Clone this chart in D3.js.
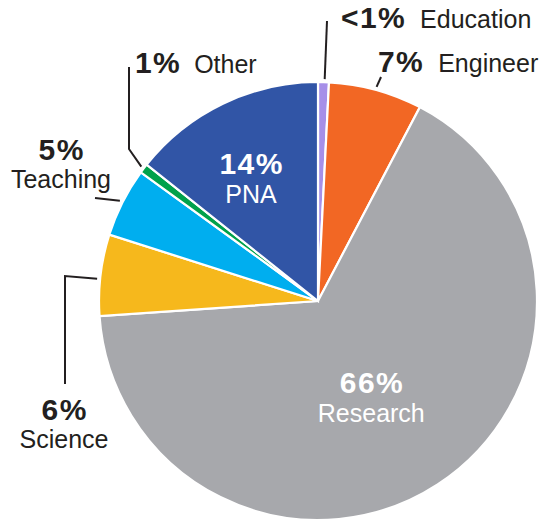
<!DOCTYPE html>
<html>
<head>
<meta charset="utf-8">
<script src="https://cdn.jsdelivr.net/npm/d3@7"></script>
<style>
  html, body { margin: 0; padding: 0; background: #ffffff; }
  svg { display: block; }
  text { font-family: "Liberation Sans", Arial, Helvetica, sans-serif; }
</style>
</head>
<body>
<svg id="chart" width="545" height="520"></svg>
<script>
// ---- data (clockwise from 12 o'clock) ----
const categories = ["Education", "Engineer", "Research", "Science", "Teaching", "Other", "PNA"];
const shares     = [0.8, 6.9, 66.2, 6.0, 5.1, 0.7, 14.3];
const pctLabels  = ["<1%", "7%", "66%", "6%", "5%", "1%", "14%"];
const colors     = ["#a68fe8", "#f26724", "#a7a8ac", "#f6b81c", "#00aeef", "#00a14b", "#3155a6"];

// ---- layout ----
const W = 545, H = 520;
const cx = 318, cy = 301, R = 219;
const ink = "#231f20";
const boldSize = 30, boldSpacing = 1.4, regSize = 25;

const svg = d3.select("#chart");
const g = svg.append("g").attr("transform", `translate(${cx},${cy})`);

const pie = d3.pie().sort(null).value(d => d.v).startAngle(0).endAngle(2 * Math.PI);
const arcs = pie(categories.map((c, i) => ({ name: c, v: shares[i], pct: pctLabels[i], color: colors[i] })));
const arc = d3.arc().innerRadius(0).outerRadius(R);

g.selectAll("path.slice")
  .data(arcs)
  .join("path")
  .attr("class", "slice")
  .attr("d", arc)
  .attr("fill", d => d.data.color)
  .attr("stroke", "#ffffff")
  .attr("stroke-width", 2.2)
  .attr("stroke-linejoin", "miter");

function polar(angle, r) { return [Math.sin(angle) * r, -Math.cos(angle) * r]; }
const byName = Object.fromEntries(arcs.map(a => [a.data.name, a]));

// ---- inside labels ----
const inside = [
  { name: "PNA", rf: 0.64, shift: -0.05 },
  { name: "Research", rf: 0.50, shift: 0.07 }
];
inside.forEach(o => {
  const a = byName[o.name];
  const mid = (a.startAngle + a.endAngle) / 2 + o.shift;
  const [x, y] = polar(mid, R * o.rf);
  const t = g.append("text").attr("text-anchor", "middle").attr("fill", "#ffffff");
  t.append("tspan").attr("x", x + boldSpacing / 2).attr("y", y - 4)
    .attr("font-weight", "bold").attr("font-size", boldSize)
    .attr("letter-spacing", boldSpacing).text(a.data.pct);
  t.append("tspan").attr("x", x).attr("y", y + 25)
    .attr("font-size", regSize).text(a.data.name);
});

// ---- leader lines ----
const line = d3.line();
function leader(name, fracAlong, rOff, pts) {
  const a = byName[name];
  const ang = a.startAngle + (a.endAngle - a.startAngle) * fracAlong;
  const start = polar(ang, R + rOff);
  g.append("path")
    .attr("d", line([start, ...pts.map(p => [p[0] - cx, p[1] - cy])]))
    .attr("fill", "none").attr("stroke", ink).attr("stroke-width", 2);
}
leader("Education", 0.6, 3, [[327, 21]]);
leader("Engineer", 0.5, 3, [[381, 77]]);
leader("Other", 0.5, 3, [[129, 149], [129, 67]]);
leader("Teaching", 0.5, 3, [[95, 198]]);
leader("Science", 0.45, 3, [[65, 276], [65, 384]]);

// ---- outside labels ----
function inlineLabel(pct, name, x, y, gap) {
  const t = svg.append("text").attr("x", x).attr("y", y).attr("fill", ink);
  t.append("tspan").attr("font-weight", "bold").attr("font-size", boldSize)
    .attr("letter-spacing", boldSpacing).text(pct);
  t.append("tspan").attr("dx", gap).attr("font-size", regSize).text(name);
}
function stackedLabel(pct, name, x, y) {
  const t = svg.append("text").attr("text-anchor", "middle").attr("fill", ink);
  t.append("tspan").attr("x", x + boldSpacing / 2).attr("y", y).attr("font-weight", "bold")
    .attr("font-size", boldSize).attr("letter-spacing", boldSpacing).text(pct);
  t.append("tspan").attr("x", x).attr("y", y + 28).attr("font-size", regSize).text(name);
}
inlineLabel(byName["Education"].data.pct, "Education", 341, 28, 14);
inlineLabel(byName["Engineer"].data.pct, "Engineer", 378, 72, 14);
inlineLabel(byName["Other"].data.pct, "Other", 135, 73, 13);
stackedLabel(byName["Teaching"].data.pct, "Teaching", 61, 160);
stackedLabel(byName["Science"].data.pct, "Science", 64, 420);
</script>
</body>
</html>
